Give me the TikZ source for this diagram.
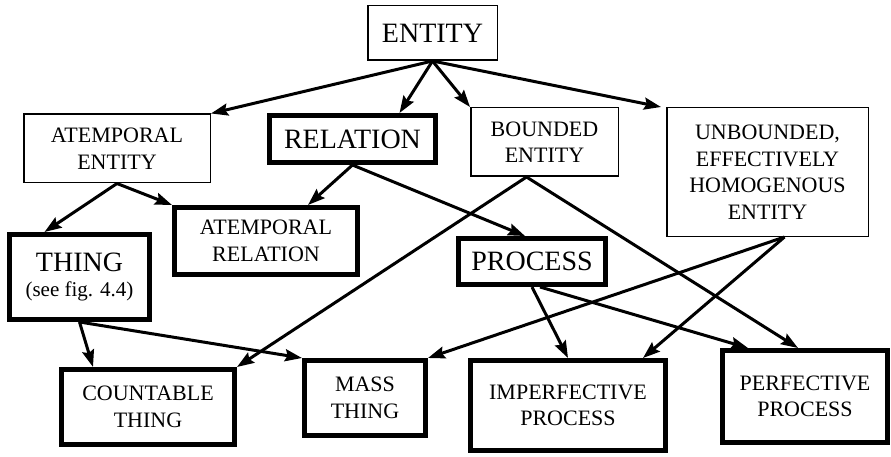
\documentclass[tikz,border=0pt]{standalone}
\usepackage{fontspec}
\setmainfont{Liberation Serif}
\usetikzlibrary{arrows.meta}

\tikzset{
  box/.style={draw, inner sep=0pt, align=center, font=\fontsize{22}{26.5}\selectfont},
  thinbox/.style={box, line width=1.5pt},
  thickbox/.style={box, line width=5pt},
  big/.style={font=\fontsize{28}{32}\selectfont},
  link/.style={line width=3pt, -{Stealth[length=17pt,width=12pt,inset=2.5pt]}}
}

\begin{document}
\begin{tikzpicture}[x=1pt, y=-1pt]
\useasboundingbox (0,0) rectangle (891,457);

% top level
\node[thinbox, big, minimum width=129.5pt, minimum height=54.5pt] (ent) at (432.5,33) {ENTITY};

% second level
\node[thinbox, minimum width=186.5pt, minimum height=68.5pt] (aent) at (117,148.5) {ATEMPORAL\\ENTITY};
\node[thickbox, big, minimum width=166pt, minimum height=47pt] (rel) at (352.5,139) {RELATION};
\node[thinbox, minimum width=147.5pt, minimum height=68.5pt] (bnd) at (544.5,142) {BOUNDED\\ENTITY};
\node[thinbox, minimum width=201.5pt, minimum height=128.5pt] (ubd) at (767.5,172) {UNBOUNDED,\\EFFECTIVELY\\HOMOGENOUS\\ENTITY};

% third level
\node[thickbox, minimum width=183pt, minimum height=67pt] (arel) at (266,241) {ATEMPORAL\\RELATION};
\node[thickbox, minimum width=140pt, minimum height=85pt] (thing) at (79.5,277)
  {{\fontsize{28}{32}\selectfont THING}\\[-2pt]{\fontsize{21}{25}\selectfont (see fig. 4.4)}};
\node[thickbox, big, minimum width=147pt, minimum height=46pt] (proc) at (532,261.5) {PROCESS};

% bottom level
\node[thickbox, minimum width=173pt, minimum height=75pt] (cnt) at (148,407) {COUNTABLE\\THING};
\node[thickbox, minimum width=121pt, minimum height=75pt] (mass) at (365,398) {MASS\\THING};
\node[thickbox, minimum width=195pt, minimum height=90pt] (imp) at (568,405.5) {IMPERFECTIVE\\PROCESS};
\node[thickbox, minimum width=165pt, minimum height=92pt] (perf) at (805,396.5) {PERFECTIVE\\PROCESS};

% connectors
\draw[link] (ent.south) -- (aent.north east);
\draw[link] (ent.south) -- ([xshift=47pt]rel.north);
\draw[link] (ent.south) -- (bnd.north west);
\draw[link] (ent.south) -- ([xshift=-5pt]ubd.north west);

\draw[link] (aent.south) -- ([xshift=-35pt]thing.north);
\draw[link] (aent.south) -- (arel.north west);

\draw[link] (rel.south) -- ([xshift=42pt]arel.north);
\draw[link] (rel.south) -- ([xshift=-7pt]proc.north);

\draw[link] ([xshift=-18pt]bnd.south) -- (cnt.north east);
\draw[link] ([xshift=-18pt]bnd.south) -- ([xshift=-7pt]perf.north);

\draw[link] ([xshift=17pt]ubd.south) -- (mass.north east);
\draw[link] ([xshift=17pt]ubd.south) -- ([xshift=75pt]imp.north);

\draw[link] (thing.south) -- ([xshift=-55pt]cnt.north);
\draw[link] (thing.south) -- (mass.north west);

\draw[link] (proc.south) -- (imp.north);
\draw[link] ([xshift=8pt]proc.south) -- ([xshift=28pt]perf.north west);
\end{tikzpicture}
\end{document}
